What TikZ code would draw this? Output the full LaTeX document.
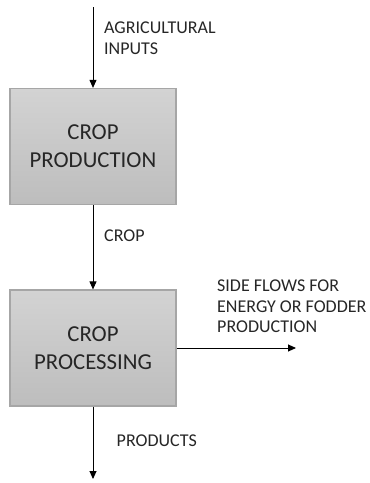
\documentclass[tikz,border=0pt]{standalone}
\usepackage{fontspec}
\setmainfont{Carlito}
\usetikzlibrary{arrows.meta}
\definecolor{boxtop}{HTML}{D3D3D3}
\definecolor{boxbot}{HTML}{BDBDBD}
\definecolor{boxline}{HTML}{A6A6A6}
\definecolor{txt}{HTML}{262626}
\begin{document}
\begin{tikzpicture}[x=1pt,y=-1pt,
  procbox/.style={draw=boxline,line width=1.2pt,top color=boxtop,bottom color=boxbot,
    minimum width=166pt,minimum height=116pt,inner sep=0pt,align=center,
    font=\fontsize{22.8}{28}\selectfont,text=txt},
  lbl/.style={anchor=north west,align=left,inner sep=0pt,font=\fontsize{18}{20.5}\selectfont,text=txt},
  flow/.style={line width=0.9pt,-{Triangle[length=8pt,width=7pt]}}]
\useasboundingbox (0,0) rectangle (370,483);
\node[procbox] (prod) at (93,146.5) {CROP\\PRODUCTION};
\node[procbox] (proc) at (93,348) {CROP\\PROCESSING};
\coordinate (in) at (93,7);
\coordinate (out) at (93,479);
\coordinate (side) at (296,348);
\draw[flow] (in) -- (prod.north);
\draw[flow] (prod.south) -- (proc.north);
\draw[flow] (proc.south) -- (out);
\draw[flow] (proc.east) -- (side);
\node[lbl] (l1) at (104,22) {AGRICULTURAL\\INPUTS};
\node[lbl] (l2) at (104,229.5) {CROP};
\node[lbl] (l3) at (217,280) {SIDE FLOWS FOR\\ENERGY OR FODDER\\PRODUCTION};
\node[lbl] (l4) at (116.5,435) {PRODUCTS};
\end{tikzpicture}
\end{document}
